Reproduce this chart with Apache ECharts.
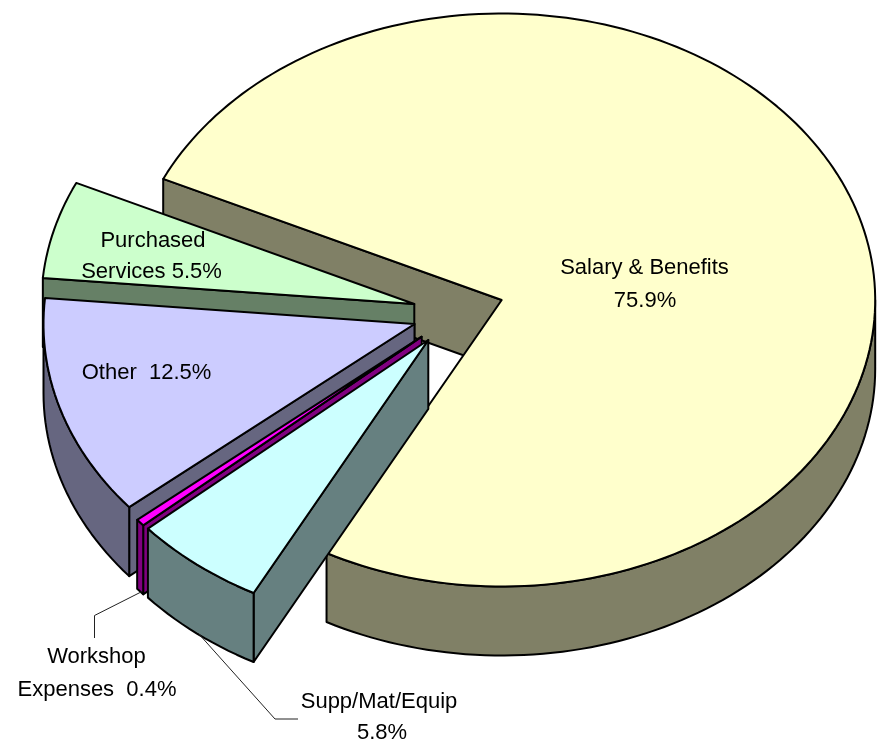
<!DOCTYPE html>
<html>
<head>
<meta charset="utf-8">
<style>html,body{margin:0;padding:0;background:#fff}#c{width:884px;height:743px}</style>
<script src="https://cdn.jsdelivr.net/npm/echarts@6/dist/echarts.min.js"></script>
</head>
<body>
<div id="c"></div>
<script>
// ---- data, clockwise from the start of the first slice ----
var categories = ['Salary & Benefits', 'Supp/Mat/Equip', 'Workshop Expenses', 'Other', 'Purchased Services'];
var values = [75.9, 5.8, 0.4, 12.5, 5.5];
var sliceLabels = [
  ['Salary & Benefits', '75.9%'],
  ['Supp/Mat/Equip', '5.8%'],
  ['Workshop', 'Expenses  0.4%'],
  ['Other  12.5%'],
  ['Purchased', 'Services 5.5%']
];

// ---- layout and style ----
var startAngle = 295, ry = 286.5, depth = 69;
var radiiX = [373.5, 372.5, 370, 371, 373];
var apexes = [[501.7, 300], [428.3, 340], [421.7, 336.7], [414.5, 324], [414.3, 304]];
var topColors = ['#FFFFCC', '#CCFFFF', '#FF00FF', '#CCCCFF', '#CCFFCC'];
var wallColors = ['#808066', '#668080', '#800080', '#666680', '#668066'];
var drawOrder = [0, 4, 3, 2, 1];
var labelAnchors = [
  [[644.5, 267.5], [645, 300.5]],
  [[379, 702], [382, 733]],
  [[96.5, 657], [97, 690]],
  [[146.5, 373]],
  [[153, 241], [151.5, 272]]
];
var leaders = { 1: [[198, 633], [275, 719], [298, 719]], 2: [[142, 591.5], [94.5, 615.5], [94.5, 638]] };
var fontSize = 22;

var total = values.reduce(function (a, b) { return a + b; }, 0);
var spans = [];
values.reduce(function (acc, v) {
  var end = acc + v / total * 360;
  spans.push([acc, end]);
  return end;
}, startAngle);

function rim(idx, deg, dy) {
  var r = deg * Math.PI / 180, apex = apexes[idx];
  return [apex[0] + radiiX[idx] * Math.sin(r), apex[1] - ry * Math.cos(r) + (dy || 0)];
}
function arc(idx, from, to, dy) {
  var pts = [], n = Math.max(2, Math.ceil(Math.abs(to - from) / 1.5));
  for (var i = 0; i <= n; i++) pts.push(rim(idx, from + (to - from) * i / n, dy));
  return pts;
}
function face(points, fill) {
  return { type: 'polygon', shape: { points: points }, style: { fill: fill, stroke: '#000', lineWidth: 2, lineJoin: 'round' } };
}
function outerWalls(idx, a, b) {
  var out = [];
  [[90, 270], [450, 630]].forEach(function (w) {
    var from = Math.max(a, w[0]), to = Math.min(b, w[1]);
    if (to > from) out.push(face(arc(idx, from, to, 0).concat(arc(idx, to, from, depth)), wallColors[idx]));
  });
  return out;
}

var series = drawOrder.map(function (idx) {
  return {
    type: 'custom',
    name: categories[idx],
    coordinateSystem: 'none',
    silent: true,
    clip: false,
    animation: false,
    data: [[values[idx]]],
    renderItem: function () {
      var apex = apexes[idx], a = spans[idx][0], b = spans[idx][1];
      var kids = [];
      kids.push(face([apex, rim(idx, a, 0), rim(idx, a, depth), [apex[0], apex[1] + depth]], wallColors[idx]));
      kids = kids.concat(outerWalls(idx, a, b));
      kids.push(face([apex].concat(arc(idx, a, b, 0)), topColors[idx]));
      return { type: 'group', children: kids };
    }
  };
});

// labels and leader lines go on top of every slice
series.push({
  type: 'custom',
  name: 'labels',
  coordinateSystem: 'none',
  silent: true,
  clip: false,
  animation: false,
  data: values.map(function (v) { return [v]; }),
  renderItem: function (params) {
    var i = params.dataIndex, kids = [];
    if (leaders[i]) {
      kids.push({ type: 'polyline', shape: { points: leaders[i] }, style: { fill: 'none', stroke: '#222', lineWidth: 1 } });
    }
    sliceLabels[i].forEach(function (t, k) {
      kids.push({
        type: 'text',
        style: {
          text: t, x: labelAnchors[i][k][0], y: labelAnchors[i][k][1],
          textAlign: 'center', textVerticalAlign: 'middle',
          fill: '#000', fontSize: fontSize, fontFamily: '"Liberation Sans", Arial, sans-serif'
        }
      });
    });
    return { type: 'group', children: kids };
  }
});

var chart = echarts.init(document.getElementById('c'), null, { renderer: 'canvas' });
chart.setOption({ backgroundColor: '#fff', animation: false, series: series });
</script>
</body>
</html>
